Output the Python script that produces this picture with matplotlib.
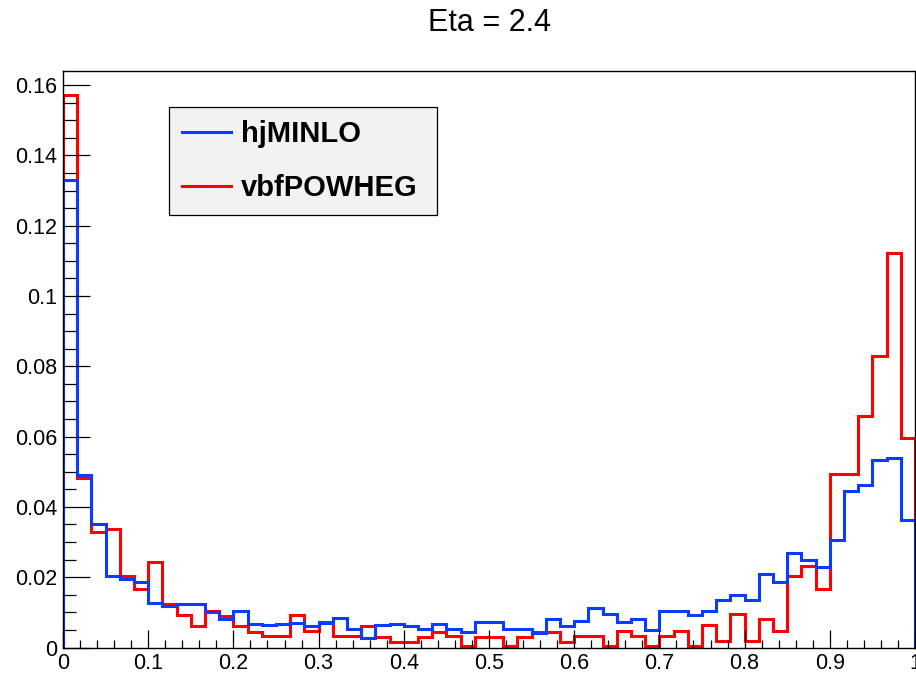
import matplotlib
matplotlib.use("Agg")
import numpy as np
from matplotlib import pyplot as plt
from matplotlib.lines import Line2D
from matplotlib.ticker import MultipleLocator, FuncFormatter

plt.rcParams['font.family'] = ['Liberation Sans', 'DejaVu Sans']

# 60 bins between 0 and 1
n_bins = 60
x_min, x_max = 0.0, 1.0

hjminlo = [
    0.1330, 0.0490, 0.0352, 0.0203, 0.0195, 0.0187, 0.0128, 0.0117, 0.0123, 0.0123,
    0.0102, 0.0081, 0.0105, 0.0067, 0.0063, 0.0067, 0.0069, 0.0062, 0.0069, 0.0083,
    0.0053, 0.0026, 0.0064, 0.0067, 0.0062, 0.0053, 0.0067, 0.0053, 0.0045, 0.0072,
    0.0072, 0.0053, 0.0053, 0.0040, 0.0080, 0.0062, 0.0074, 0.0112, 0.0094, 0.0072,
    0.0081, 0.0051, 0.0104, 0.0104, 0.0093, 0.0105, 0.0134, 0.0148, 0.0134, 0.0208,
    0.0186, 0.0268, 0.0249, 0.0228, 0.0306, 0.0445, 0.0461, 0.0534, 0.0538, 0.0362,
]

vbfpowheg = [
    0.1572, 0.0482, 0.0328, 0.0336, 0.0202, 0.0166, 0.0244, 0.0124, 0.0092, 0.0061,
    0.0105, 0.0090, 0.0061, 0.0045, 0.0032, 0.0033, 0.0092, 0.0048, 0.0073, 0.0033,
    0.0033, 0.0061, 0.0031, 0.0017, 0.0017, 0.0031, 0.0045, 0.0033, 0.0004, 0.0031,
    0.0031, 0.0004, 0.0031, 0.0045, 0.0045, 0.0017, 0.0033, 0.0033, 0.0004, 0.0046,
    0.0033, 0.0004, 0.0033, 0.0047, 0.0004, 0.0065, 0.0018, 0.0094, 0.0018, 0.0080,
    0.0048, 0.0202, 0.0232, 0.0166, 0.0494, 0.0494, 0.0658, 0.0830, 0.1122, 0.0597,
]

labels = ["hjMINLO", "vbfPOWHEG"]
title = "Eta = 2.4"

edges = np.linspace(x_min, x_max, n_bins + 1)

fig = plt.figure(figsize=(9.16, 6.74), dpi=100)
ax = fig.add_axes([63 / 916, 26.5 / 674, 852 / 916, 576.5 / 674])

# red first so blue sits on top, like the original
ax.stairs(vbfpowheg, edges, color='#ff0000', lw=2.2)
ax.stairs(hjminlo, edges, color='#0a3cff', lw=2.2)

ax.set_xlim(x_min, x_max)
ax.set_ylim(0, 0.164)

ax.xaxis.set_major_locator(MultipleLocator(0.1))
ax.xaxis.set_minor_locator(MultipleLocator(0.02))
ax.yaxis.set_major_locator(MultipleLocator(0.02))
ax.yaxis.set_minor_locator(MultipleLocator(0.005))

fmt = FuncFormatter(lambda v, pos: '%g' % round(v, 4))
ax.xaxis.set_major_formatter(fmt)
ax.yaxis.set_major_formatter(fmt)

ax.tick_params(axis='both', which='both', direction='in', colors='black', width=0.9)
ax.tick_params(axis='y', which='major', length=19.4, pad=4.3, labelsize=15.5)
ax.tick_params(axis='y', which='minor', length=9.4)
ax.tick_params(axis='x', which='major', length=13, pad=3.8, labelsize=15.5)
ax.tick_params(axis='x', which='minor', length=5.8)

for sp in ax.spines.values():
    sp.set_linewidth(1.0)
    sp.set_color('black')

handles = [Line2D([], [], color='#0a3cff', lw=2.2), Line2D([], [], color='#ff0000', lw=2.2)]
leg = ax.legend(handles, labels, loc='upper left',
                bbox_to_anchor=(0.1248, 0.5, 0.3138, 0.438), mode='expand',
                borderaxespad=0, prop={'weight': 'bold', 'size': 21},
                handlelength=1.65, handletextpad=0.35, labelspacing=0.9,
                borderpad=0.45, fancybox=False, shadow=False, framealpha=1)
leg.get_frame().set_facecolor('#f2f2f2')
leg.get_frame().set_edgecolor('black')
leg.get_frame().set_linewidth(0.9)

fig.text(489 / 916, 1 - 23 / 674, title, ha='center', va='center', fontsize=22)

fig.savefig('out.png', dpi=100)
